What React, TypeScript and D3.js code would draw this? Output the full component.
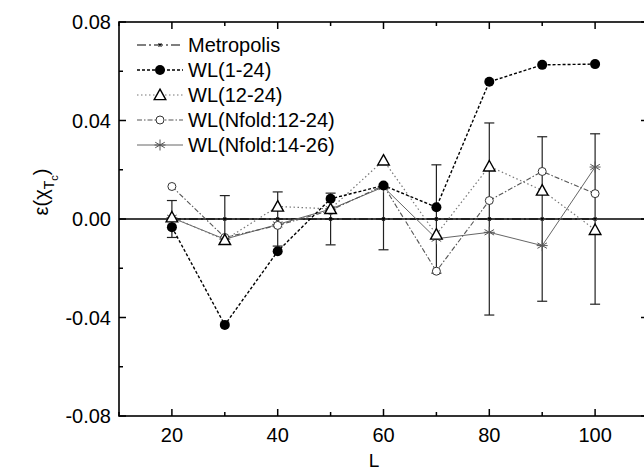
import React from "react";
import * as d3 from "d3";

const Ls = [20, 30, 40, 50, 60, 70, 80, 90, 100];
const metropolis = [0, 0, 0, 0, 0, 0, 0, 0, 0];
const metropolisErr = [0.0075, 0.0095, 0.011, 0.0105, 0.0125, 0.022, 0.039, 0.0334, 0.0346];
const wl1_24 = [-0.0033, -0.043, -0.0131, 0.0082, 0.0136, 0.0048, 0.0557, 0.0626, 0.0629];
const wl12_24 = [0.0007, -0.0085, 0.0051, 0.0041, 0.0238, -0.0063, 0.0214, 0.0116, -0.0044];
const wlNfold12_24 = [0.0132, -0.0075, -0.0026, 0.0035, 0.0136, -0.0212, 0.0075, 0.0193, 0.0103];
const wlNfold14_26 = [0.0005, -0.0082, -0.0022, 0.004, 0.013, -0.008, -0.0054, -0.0108, 0.0211];
const legendLabels = ["Metropolis", "WL(1-24)", "WL(12-24)", "WL(Nfold:12-24)", "WL(Nfold:14-26)"];
const xMajor = [20, 40, 60, 80, 100];
const xMinor = [10, 30, 50, 70, 90, 110];
const yMajor = [-0.08, -0.04, 0, 0.04, 0.08];
const yMinor = [-0.06, -0.02, 0.02, 0.06];

const W = 644, H = 473;
const L0 = 119, R0 = 648, T0 = 22, B0 = 416;
const x = d3.scaleLinear().domain([10, 110]).range([L0, R0]);
const y = d3.scaleLinear().domain([-0.08, 0.08]).range([B0, T0]);
const font = "Liberation Sans, Arial, sans-serif";

type Style = { dash: string; color: string; width: number; marker: string };
const styles: Style[] = [
  { dash: "9,3,2,3", color: "#000", width: 1.2, marker: "dot" },
  { dash: "3,2", color: "#000", width: 1.4, marker: "filled" },
  { dash: "1.5,2.5", color: "#777", width: 1.2, marker: "triangle" },
  { dash: "5,2,1.5,2", color: "#555", width: 1.1, marker: "circle" },
  { dash: "", color: "#666", width: 1, marker: "star" },
];

function Marker({ kind, cx, cy }: { kind: string; cx: number; cy: number }) {
  if (kind === "filled") return <circle cx={cx} cy={cy} r={5} fill="#000" />;
  if (kind === "circle") return <circle cx={cx} cy={cy} r={4} fill="white" stroke="#333" strokeWidth={1} />;
  if (kind === "triangle") {
    const s = 5.8;
    return <path d={`M${cx},${cy - s}L${cx + s},${cy + s * 0.8}L${cx - s},${cy + s * 0.8}Z`} fill="white" stroke="#000" strokeWidth={1.4} />;
  }
  if (kind === "star") {
    const r = 5.5;
    const p = [90, 30, -30].map((a) => {
      const t = (a * Math.PI) / 180;
      return `M${cx - r * Math.cos(t)},${cy - r * Math.sin(t)}L${cx + r * Math.cos(t)},${cy + r * Math.sin(t)}`;
    }).join("");
    return <path d={p + `M${cx - r},${cy}L${cx + r},${cy}`} stroke="#555" strokeWidth={1} fill="none" />;
  }
  return <path d={`M${cx - 1.5},${cy - 1.5}L${cx + 1.5},${cy + 1.5}M${cx - 1.5},${cy + 1.5}L${cx + 1.5},${cy - 1.5}`} stroke="#000" strokeWidth={1.2} />;
}

export default function App() {
  const series = [metropolis, wl1_24, wl12_24, wlNfold12_24, wlNfold14_26];
  const line = d3.line<number>().x((_, i) => x(Ls[i])).y((d) => y(d));
  const drawOrder = [0, 4, 3, 2, 1];
  return (
    <svg width={W} height={H} style={{ position: "absolute", left: 0, top: 0 }}>
      <rect width={W} height={H} fill="white" />
      <line x1={L0} x2={R0} y1={y(0)} y2={y(0)} stroke="#000" strokeWidth={1.6} />
      {Ls.map((L, i) => (
        <g key={"e" + i} stroke="#222" strokeWidth={1.2}>
          <line x1={x(L)} x2={x(L)} y1={y(metropolis[i] + metropolisErr[i])} y2={y(metropolis[i] - metropolisErr[i])} />
          <line x1={x(L) - 5} x2={x(L) + 5} y1={y(metropolis[i] + metropolisErr[i])} y2={y(metropolis[i] + metropolisErr[i])} />
          <line x1={x(L) - 5} x2={x(L) + 5} y1={y(metropolis[i] - metropolisErr[i])} y2={y(metropolis[i] - metropolisErr[i])} />
        </g>
      ))}
      {drawOrder.map((si) => (
        <path key={"l" + si} d={line(series[si]) || ""} fill="none" stroke={styles[si].color} strokeWidth={styles[si].width} strokeDasharray={styles[si].dash} />
      ))}
      {drawOrder.map((si) => (
        <g key={"m" + si}>
          {series[si].map((v, i) => <Marker key={i} kind={styles[si].marker} cx={x(Ls[i])} cy={y(v)} />)}
        </g>
      ))}
      <rect x={L0} y={T0} width={R0 - L0} height={B0 - T0} fill="none" stroke="#000" strokeWidth={1.6} />
      {xMajor.map((t) => (
        <g key={"xM" + t}>
          <line x1={x(t)} x2={x(t)} y1={B0} y2={B0 - 7} stroke="#000" strokeWidth={1.5} />
          <line x1={x(t)} x2={x(t)} y1={T0} y2={T0 + 7} stroke="#000" strokeWidth={1.5} />
          <text x={x(t)} y={B0 + 26} textAnchor="middle" fontFamily={font} fontSize={20}>{t}</text>
        </g>
      ))}
      {xMinor.map((t) => (
        <g key={"xm" + t}>
          <line x1={x(t)} x2={x(t)} y1={B0} y2={B0 - 4} stroke="#000" strokeWidth={1.5} />
          <line x1={x(t)} x2={x(t)} y1={T0} y2={T0 + 4} stroke="#000" strokeWidth={1.5} />
        </g>
      ))}
      {yMajor.map((t) => (
        <g key={"yM" + t}>
          <line x1={L0} x2={L0 + 7} y1={y(t)} y2={y(t)} stroke="#000" strokeWidth={1.5} />
          <line x1={R0} x2={R0 - 7} y1={y(t)} y2={y(t)} stroke="#000" strokeWidth={1.5} />
          <text x={L0 - 8} y={y(t) + 7} textAnchor="end" fontFamily={font} fontSize={20}>{t.toFixed(2)}</text>
        </g>
      ))}
      {yMinor.map((t) => (
        <g key={"ym" + t}>
          <line x1={L0} x2={L0 + 4} y1={y(t)} y2={y(t)} stroke="#000" strokeWidth={1.5} />
          <line x1={R0} x2={R0 - 4} y1={y(t)} y2={y(t)} stroke="#000" strokeWidth={1.5} />
        </g>
      ))}
      <text x={374} y={467} textAnchor="middle" fontFamily={font} fontSize={19}>L</text>
      <text transform={`translate(48,${192}) rotate(-90)`} textAnchor="middle" fontFamily={font} fontSize={20}>
        ε(χ<tspan dy={6} fontSize={14}>T</tspan><tspan dy={4} fontSize={11}>c</tspan><tspan dy={-10} fontSize={20}>)</tspan>
      </text>
      {legendLabels.map((lab, i) => {
        const ly = 45 + i * 25;
        return (
          <g key={"lg" + i}>
            <line x1={137} x2={183} y1={ly} y2={ly} stroke={styles[i].color} strokeWidth={styles[i].width} strokeDasharray={styles[i].dash} />
            <Marker kind={styles[i].marker} cx={160} cy={ly} />
            <text x={188} y={ly + 7} fontFamily={font} fontSize={20}>{lab}</text>
          </g>
        );
      })}
    </svg>
  );
}
